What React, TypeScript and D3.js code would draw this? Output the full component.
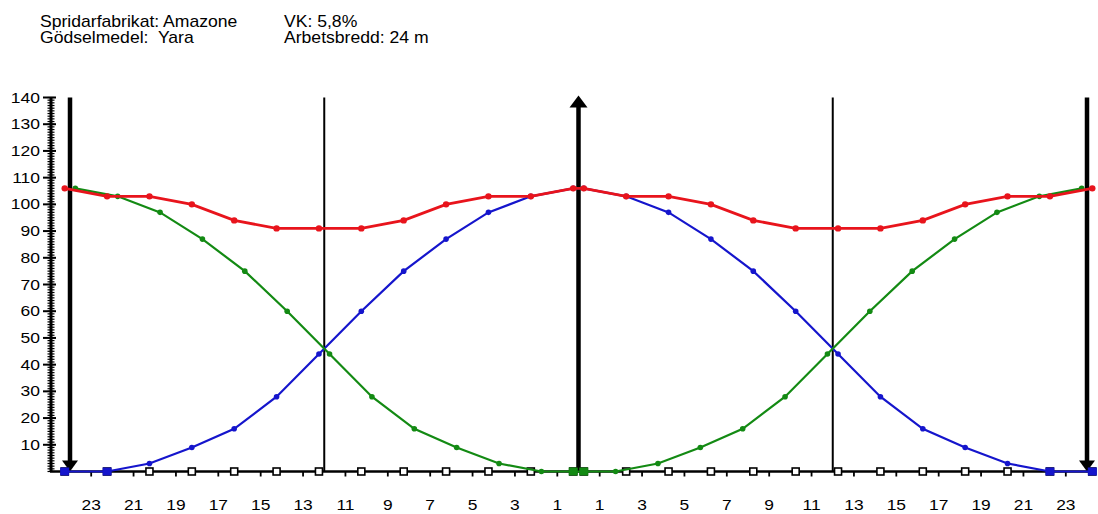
import React from "react";
import * as d3 from "d3";

// ---- data ----
const headerLeft = ["Spridarfabrikat: Amazone", "Gödselmedel:  Yara"];
const headerRight = ["VK: 5,8%", "Arbetsbredd: 24 m"];

// tray / sample positions (m from centre, negative = left)
const trayX = [-24.25, -22.25, -20.25, -18.25, -16.25, -14.25, -12.25, -10.25, -8.25, -6.25, -4.25, -2.25, -0.25,
  0.25, 2.25, 4.25, 6.25, 8.25, 10.25, 12.25, 14.25, 16.25, 18.25, 20.25, 22.25, 24.25];
const blueY = [0, 0, 3, 9, 16, 28, 44, 60, 75, 87, 97, 103, 106,
  106, 103, 97, 87, 75, 60, 44, 28, 16, 9, 3, 0, 0];
const redY = [106, 103, 103, 100, 94, 91, 91, 91, 94, 100, 103, 103, 106,
  106, 103, 103, 100, 94, 91, 91, 91, 94, 100, 103, 103, 106];
const greenX = [-23.75, -21.75, -19.75, -17.75, -15.75, -13.75, -11.75, -9.75, -7.75, -5.75, -3.75, -1.75, -0.25,
  0.25, 1.75, 3.75, 5.75, 7.75, 9.75, 11.75, 13.75, 15.75, 17.75, 19.75, 21.75, 23.75];
const greenY = [106, 103, 97, 87, 75, 60, 44, 28, 16, 9, 3, 0, 0,
  0, 0, 3, 9, 16, 28, 44, 60, 75, 87, 97, 103, 106];
const xTickValues = [-23, -21, -19, -17, -15, -13, -11, -9, -7, -5, -3, -1, 1, 3, 5, 7, 9, 11, 13, 15, 17, 19, 21, 23];
const yTickValues = [10, 20, 30, 40, 50, 60, 70, 80, 90, 100, 110, 120, 130, 140];
const arrowsDown = [-24, 24];
const arrowUp = [0];
const thinLines = [-12, 12];

const RED = "#e8141c";
const GREEN = "#138a13";
const BLUE = "#1515cc";
const FONT = "'Liberation Sans', Arial, Helvetica, sans-serif";

function Txt(props: { x: number; y: number; sx: number; size: number; anchor?: string; children: any }) {
  return (
    <text
      transform={`translate(${props.x},${props.y}) scale(${props.sx},1)`}
      fontSize={props.size}
      fontFamily={FONT}
      textAnchor={props.anchor || "start"}
      fill="#000"
      style={{ whiteSpace: "pre" }}
    >
      {props.children}
    </text>
  );
}

export default function App() {
  const W = 1098, H = 514;
  const x = d3.scaleLinear().domain([-24, 24]).range([70, 1087]);
  const y = d3.scaleLinear().domain([0, 140]).range([471.5, 97.5]);
  const axisX = 51;

  const line = d3.line<[number, number]>().x((d) => x(d[0])).y((d) => y(d[1]));
  const blueData: [number, number][] = trayX.map((v, i) => [v, blueY[i]]);
  const redData: [number, number][] = trayX.map((v, i) => [v, redY[i]]);
  const greenData: [number, number][] = greenX.map((v, i) => [v, greenY[i]]);

  const minorTicks = d3.range(0, 141, 1);

  return (
    <svg width={W} height={H} style={{ position: "absolute", left: 0, top: 0, background: "#fff" }}>
      <rect x={0} y={0} width={W} height={H} fill="#fff" />
      {/* header */}
      {headerLeft.map((t, i) => (
        <Txt key={"hl" + i} x={40} y={27 + i * 16} sx={1.1} size={16}>{t}</Txt>
      ))}
      {headerRight.map((t, i) => (
        <Txt key={"hr" + i} x={284} y={27 + i * 16} sx={1.1} size={16}>{t}</Txt>
      ))}

      {/* y axis */}
      <line x1={axisX} x2={axisX} y1={y(140)} y2={y(0)} stroke="#000" strokeWidth={3} />
      {minorTicks.map((v) => (
        <line key={"mt" + v} x1={axisX - 3.5} x2={axisX + 3.5} y1={y(v)} y2={y(v)} stroke="#000" strokeWidth={1.2} />
      ))}
      {yTickValues.map((v) => (
        <g key={"yt" + v}>
          <line x1={axisX - 8} x2={axisX + 5} y1={y(v)} y2={y(v)} stroke="#000" strokeWidth={2} />
          <Txt x={40} y={y(v) + 5} sx={1.25} size={14} anchor="end">{String(v)}</Txt>
        </g>
      ))}

      {/* x axis */}
      <line x1={axisX - 1} x2={1096} y1={y(0)} y2={y(0)} stroke="#000" strokeWidth={2.5} />
      {xTickValues.map((v) => (
        <g key={"xt" + v}>
          <line x1={x(v)} x2={x(v)} y1={y(0)} y2={y(0) + 5} stroke="#000" strokeWidth={1.8} />
          <Txt x={x(v)} y={510} sx={1.16} size={15} anchor="middle">{String(Math.abs(v))}</Txt>
        </g>
      ))}

      {/* thin vertical lines */}
      {thinLines.map((v) => (
        <line key={"tl" + v} x1={x(v)} x2={x(v)} y1={y(140)} y2={y(0)} stroke="#000" strokeWidth={2} />
      ))}
      {/* down arrows */}
      {arrowsDown.map((v) => (
        <g key={"ad" + v}>
          <line x1={x(v)} x2={x(v)} y1={y(140)} y2={y(0) - 9} stroke="#000" strokeWidth={4.5} />
          <path d={`M${x(v) - 8},${y(0) - 11} L${x(v) + 8},${y(0) - 11} L${x(v)},${y(0)} Z`} fill="#000" />
        </g>
      ))}
      {/* up arrow */}
      {arrowUp.map((v) => (
        <g key={"au" + v}>
          <line x1={x(v)} x2={x(v)} y1={y(140) + 8} y2={y(0)} stroke="#000" strokeWidth={4.5} />
          <path d={`M${x(v) - 9},${y(140) + 10} L${x(v) + 9},${y(140) + 10} L${x(v)},${y(140) - 2} Z`} fill="#000" />
        </g>
      ))}

      {/* tray squares */}
      {trayX.map((v, i) => (
        <rect key={"tr" + i} x={x(v) - 3.5} y={y(0) - 3.5} width={7} height={7} fill="#fff" stroke="#000" strokeWidth={1.6} />
      ))}

      {/* series */}
      <path d={line(blueData) || ""} fill="none" stroke={BLUE} strokeWidth={2.2} />
      {blueData.map((d, i) => (
        <circle key={"bc" + i} cx={x(d[0])} cy={y(d[1])} r={2.8} fill={BLUE} />
      ))}
      <path d={line(greenData) || ""} fill="none" stroke={GREEN} strokeWidth={2.2} />
      {greenData.map((d, i) => (
        <circle key={"gc" + i} cx={x(d[0])} cy={y(d[1])} r={2.8} fill={GREEN} />
      ))}
      <path d={line(redData) || ""} fill="none" stroke={RED} strokeWidth={2.8} />
      {redData.map((d, i) => (
        <circle key={"rc" + i} cx={x(d[0])} cy={y(d[1])} r={3.2} fill={RED} />
      ))}

      {/* zero-value points sitting on tray squares */}
      {blueData.map((d, i) =>
        d[1] === 0 ? (
          <rect key={"bs" + i} x={x(d[0]) - 4} y={y(0) - 3.5} width={8} height={7} fill={BLUE} stroke={BLUE} strokeWidth={1} />
        ) : null
      )}
      {greenData.map((d, i) =>
        d[1] === 0 && trayX.indexOf(d[0]) >= 0 ? (
          <rect key={"gs" + i} x={x(d[0]) - 4} y={y(0) - 3.5} width={8} height={7} fill={GREEN} stroke={GREEN} strokeWidth={1} />
        ) : null
      )}
    </svg>
  );
}
